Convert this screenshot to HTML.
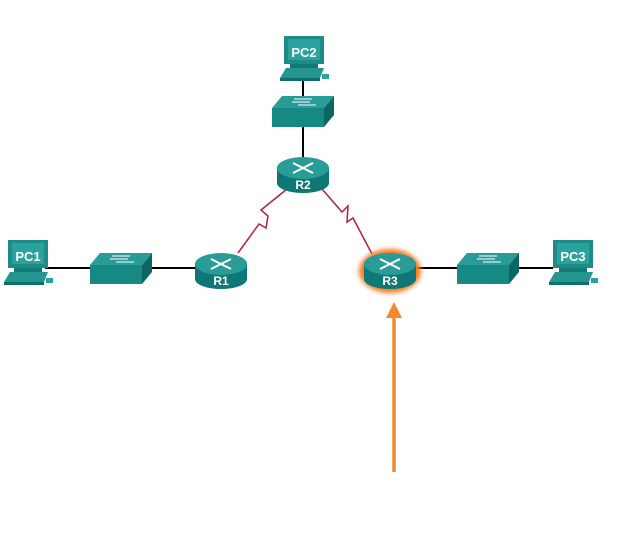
<!DOCTYPE html>
<html><head><meta charset="utf-8"><style>
html,body{margin:0;padding:0;background:#fff;}
svg{display:block}
text{font-family:"Liberation Sans",sans-serif;font-weight:bold;fill:#fff}
</style></head><body>
<svg width="622" height="555" viewBox="0 0 622 555" xmlns="http://www.w3.org/2000/svg">
<defs>
<filter id="glow" x="-50%" y="-50%" width="200%" height="200%"><feGaussianBlur stdDeviation="2.5"/></filter>
<g id="router">
 <path d="M-26,0 L-26,15 A26,10 0 0 0 26,15 L26,0 Z" fill="#0f7775"/>
 <ellipse cx="0" cy="0" rx="26" ry="11" fill="#2a9c98"/>
 <path d="M-10,-5 L10,5 M10,-5 L-10,5" stroke="#fff" stroke-width="2"/>
</g>
<g id="switch">
 <polygon points="10,0 62,0 52,12 0,12" fill="#2a9c98"/>
 <rect x="0" y="12" width="52" height="19" fill="#168985"/>
 <polygon points="52,12 62,0 62,19 52,31" fill="#0c6664"/>
 <path d="M22,3 L40,3 M20,6 L38,6 M26,9 L44,9" stroke="#fff" stroke-width="1"/>
</g>
<g id="pc">
 <rect x="0" y="0" width="40" height="28" fill="#1d8b87"/>
 <rect x="4" y="3" width="32" height="21" fill="#2aa39e"/>
 <rect x="6" y="28" width="28" height="4" fill="#147a76"/>
 <polygon points="2,32 40,32 36,42 -4,42" fill="#25958f"/>
 <rect x="-4" y="42" width="40" height="3" fill="#0f6f6c"/>
 <rect x="38" y="38" width="7" height="5" fill="#2aa39e"/>
</g>
</defs>
<g stroke="#000" stroke-width="2">
 <line x1="303" y1="80" x2="303" y2="97"/>
 <line x1="303" y1="127" x2="303" y2="160"/>
 <line x1="45" y1="268" x2="92" y2="268"/>
 <line x1="150" y1="268" x2="200" y2="268"/>
 <line x1="414" y1="268" x2="460" y2="268"/>
 <line x1="517" y1="268" x2="553" y2="268"/>
</g>
<g stroke="#b0213f" stroke-width="1.5" fill="none">
 <polyline points="238,253 259,224 266,228 268,216 261,210 287,189"/>
 <polyline points="322,189 342,212 348,206 347,222 353,218 372,254"/>
</g>
<use href="#pc" x="284" y="36"/>
<text x="304" y="57" font-size="13" text-anchor="middle">PC2</text>
<use href="#switch" x="272" y="96"/>
<use href="#router" x="303" y="168"/>
<text x="303" y="189" font-size="12" text-anchor="middle">R2</text>
<use href="#pc" x="8" y="240"/>
<text x="28" y="261" font-size="13" text-anchor="middle">PC1</text>
<use href="#switch" x="90" y="253"/>
<use href="#router" x="221" y="264"/>
<text x="221" y="285" font-size="12" text-anchor="middle">R1</text>
<ellipse cx="390" cy="271" rx="31" ry="22" fill="#f37b20" filter="url(#glow)"/>
<use href="#router" x="390" y="264"/>
<text x="390" y="285" font-size="12" text-anchor="middle">R3</text>
<use href="#switch" x="457" y="253"/>
<use href="#pc" x="553" y="240"/>
<text x="573" y="261" font-size="13" text-anchor="middle">PC3</text>
<line x1="394" y1="472" x2="394" y2="316" stroke="#f08a2c" stroke-width="3.5"/>
<polygon points="394,302 386,318 402,318" fill="#f08a2c"/>
</svg>
</body></html>
